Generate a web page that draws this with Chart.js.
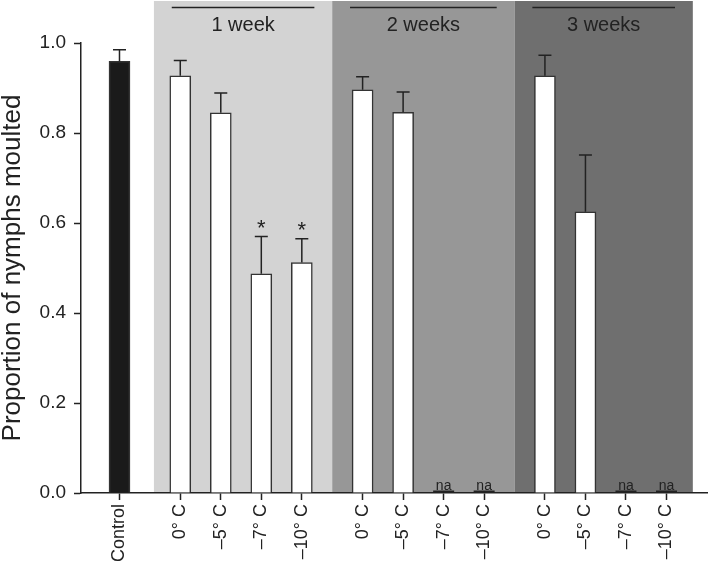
<!DOCTYPE html>
<html>
<head>
<meta charset="utf-8">
<script src="https://cdn.jsdelivr.net/npm/chart.js@4.4.1/dist/chart.umd.min.js"></script>
<style>
  html, body { margin: 0; padding: 0; background: #fff; }
  #wrap { width: 709px; height: 561px; }
</style>
</head>
<body>
<div id="wrap"><canvas id="grafico"></canvas></div>
<script>
// valores
const controlLabel = 'Control';
const controlValue = 0.959;
const controlErr = 0.026;

const groups = ['1 week', '2 weeks', '3 weeks'];
const temps = ['0° C', '–5° C', '–7° C', '–10° C'];

const week1Values = [0.927, 0.845, 0.487, 0.512];
const week1Err = [0.034, 0.044, 0.083, 0.053];
const week1Notes = ['', '', '*', '*'];

const week2Values = [0.896, 0.846, 0, 0];
const week2Err = [0.029, 0.045, 0, 0];
const week2Notes = ['', '', 'na', 'na'];

const week3Values = [0.927, 0.625, 0, 0];
const week3Err = [0.046, 0.126, 0, 0];
const week3Notes = ['', '', 'na', 'na'];

const yTicks = [0, 0.2, 0.4, 0.6, 0.8, 1.0];

const panelColors = ['#d3d3d3', '#979797', '#6f6f6f'];
const fontFamily = '"Liberation Sans", Arial, Helvetica, sans-serif';

// monta posições (meio-slot): controle em 0, grupos com intervalo
const groupValues = [week1Values, week2Values, week3Values];
const groupErr = [week1Err, week2Err, week3Err];
const groupNotes = [week1Notes, week2Notes, week3Notes];

const points = [{ x: 0, y: controlValue }];
const errs = [controlErr];
const notes = [''];
const labelsByPos = { 0: controlLabel };
const colors = ['#1a1a1a'];
const groupRanges = [];

groups.forEach((g, gi) => {
    const first = 3 + gi * 9;
    temps.forEach((t, ti) => {
        const pos = first + ti * 2;
        points.push({ x: pos, y: groupValues[gi][ti] });
        errs.push(groupErr[gi][ti]);
        notes.push(groupNotes[gi][ti]);
        labelsByPos[pos] = t;
        colors.push('#ffffff');
    });
    groupRanges.push({ first: first, last: first + (temps.length - 1) * 2 });
});

const tickPositions = points.map(p => p.x);

const decoPlugin = {
    id: 'deco',
    beforeDraw(chart) {
        const ctx = chart.ctx;
        const xs = chart.scales.x;
        const bottom = chart.chartArea.bottom;
        ctx.save();
        groupRanges.forEach((r, i) => {
            const left = i === 0 ? r.first - 1.3 : (groupRanges[i - 1].last + r.first) / 2;
            const right = i === groupRanges.length - 1 ? r.last + 1.3 : (r.last + groupRanges[i + 1].first) / 2;
            const x0 = xs.getPixelForValue(left);
            const x1 = xs.getPixelForValue(right);
            ctx.fillStyle = panelColors[i];
            ctx.fillRect(x0, 1, x1 - x0, bottom - 1);

            // linha e título do grupo
            const lx0 = xs.getPixelForValue(left + 0.88);
            const lx1 = xs.getPixelForValue(right - 0.88);
            ctx.strokeStyle = '#222';
            ctx.lineWidth = 1.5;
            ctx.beginPath();
            ctx.moveTo(lx0, 7.5);
            ctx.lineTo(lx1, 7.5);
            ctx.stroke();
            ctx.fillStyle = '#222';
            ctx.font = '20px ' + fontFamily;
            ctx.textAlign = 'center';
            ctx.textBaseline = 'middle';
            ctx.fillText(groups[i], (lx0 + lx1) / 2, 25);
        });
        ctx.restore();
    },
    afterDatasetsDraw(chart) {
        const ctx = chart.ctx;
        const ys = chart.scales.y;
        const meta = chart.getDatasetMeta(0);
        ctx.save();
        meta.data.forEach((el, i) => {
            const v = points[i].y;
            const w = el.width;
            if (notes[i] === 'na') {
                const y0 = ys.getPixelForValue(0) - 1.5;
                ctx.strokeStyle = '#222';
                ctx.lineWidth = 2;
                ctx.beginPath();
                ctx.moveTo(el.x - w / 2, y0);
                ctx.lineTo(el.x + w / 2, y0);
                ctx.stroke();
                ctx.fillStyle = '#222';
                ctx.font = '14px ' + fontFamily;
                ctx.textAlign = 'center';
                ctx.textBaseline = 'alphabetic';
                ctx.fillText('na', el.x, y0 - 2);
                return;
            }
            const yTop = ys.getPixelForValue(v);
            const yErr = ys.getPixelForValue(v + errs[i]);
            ctx.strokeStyle = '#222';
            ctx.lineWidth = 1.5;
            ctx.beginPath();
            ctx.moveTo(el.x, yTop);
            ctx.lineTo(el.x, yErr);
            ctx.moveTo(el.x - 6.5, yErr);
            ctx.lineTo(el.x + 6.5, yErr);
            ctx.stroke();
            if (notes[i] === '*') {
                ctx.fillStyle = '#222';
                ctx.font = '22px ' + fontFamily;
                ctx.textAlign = 'center';
                ctx.textBaseline = 'alphabetic';
                ctx.fillText('*', el.x, yErr - 2);
            }
        });
        ctx.restore();
    }
};

const ctx = document.getElementById('grafico').getContext('2d');
new Chart(ctx, {
    type: 'bar',
    data: {
        datasets: [{
            data: points,
            backgroundColor: colors,
            borderColor: '#333',
            borderWidth: 1.5,
            borderSkipped: 'start',
            barThickness: 21
        }]
    },
    options: {
        responsive: true,
        maintainAspectRatio: false,
        animation: false,
        layout: { padding: { top: 43, right: 2, left: 0, bottom: 0 } },
        scales: {
            x: {
                type: 'linear',
                min: -1.9,
                max: 29,
                offset: false,
                grid: { display: true, offset: false, drawOnChartArea: false, drawTicks: true, tickLength: 7, tickColor: '#222', tickWidth: 1.5 },
                border: { display: true, color: '#222', width: 1.5 },
                afterBuildTicks: axis => { axis.ticks = tickPositions.map(v => ({ value: v })); },
                afterFit: axis => { axis.height = 68; },
                ticks: {
                    autoSkip: false,
                    minRotation: 90,
                    maxRotation: 90,
                    padding: 4,
                    color: '#222',
                    font: { family: fontFamily, size: 18 },
                    callback: v => labelsByPos[v] || ''
                }
            },
            y: {
                min: 0,
                max: 1,
                afterBuildTicks: axis => { axis.ticks = yTicks.map(v => ({ value: v })); },
                afterFit: axis => { axis.width = 81; },
                grid: { display: true, drawOnChartArea: false, drawTicks: true, tickLength: 7, tickColor: '#222', tickWidth: 1.5 },
                border: { display: true, color: '#222', width: 1.5 },
                ticks: {
                    padding: 8,
                    color: '#222',
                    font: { family: fontFamily, size: 19 },
                    callback: v => v.toFixed(1)
                },
                title: {
                    display: true,
                    text: 'Proportion of nymphs moulted',
                    color: '#222',
                    padding: 0,
                    font: { family: fontFamily, size: 26, lineHeight: 1.0 }
                }
            }
        },
        plugins: {
            legend: { display: false },
            tooltip: { enabled: false }
        }
    },
    plugins: [decoPlugin]
});
</script>
</body>
</html>
